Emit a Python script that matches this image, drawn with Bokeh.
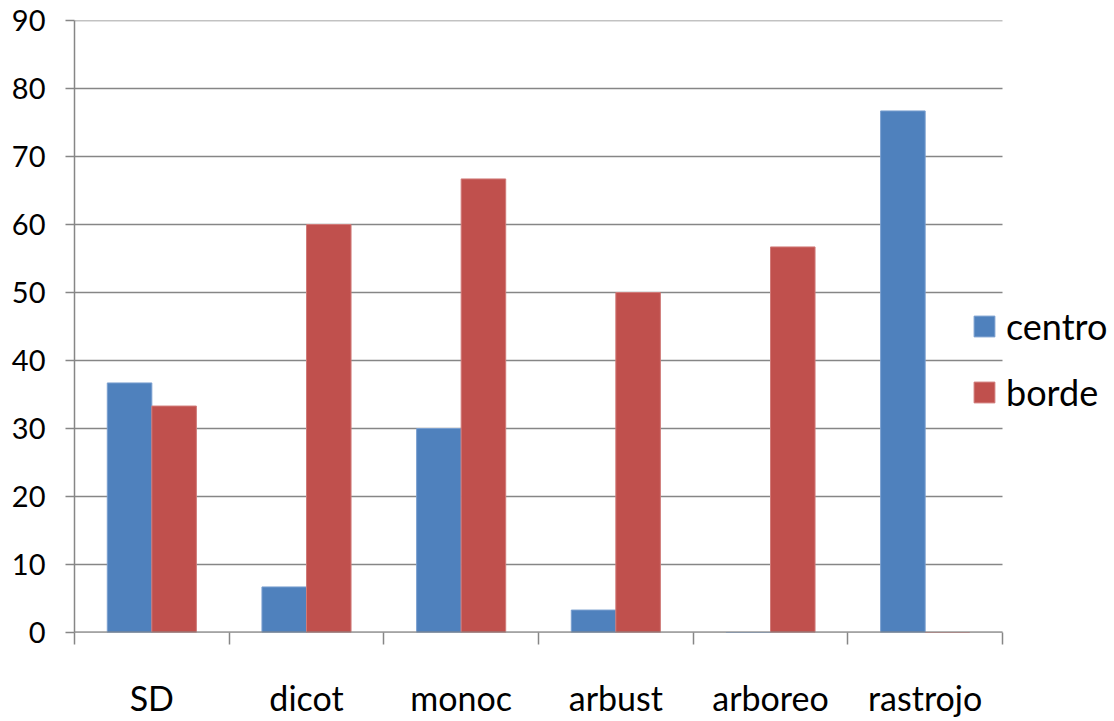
from bokeh.plotting import figure
from bokeh.models import Range1d, FixedTicker, ColumnDataSource, Legend, LegendItem
from bokeh.embed import file_html
from bokeh.resources import INLINE

categories = ["SD", "dicot", "monoc", "arbust", "arboreo", "rastrojo"]
centro = [36.7, 6.7, 30.0, 3.3, 0.0, 76.7]
borde = [33.3, 60.0, 66.7, 50.0, 56.7, 0.0]
y_ticks = [0, 10, 20, 30, 40, 50, 60, 70, 80, 90]

FONT = "Lato"
GRID = "#868686"
BLUE = "#4F81BD"
RED = "#C0504D"

W, H = 1114, 721
LEFT, TOP, BOTTOM, RIGHT = 74, 20, 89, 0
DATA_PX = 928  # pixel width of the category area

n = len(categories)
bar_w = 0.288
idx = list(range(n))
src = ColumnDataSource(dict(
    xc=[i + 0.5 - bar_w / 2 for i in idx],
    xb=[i + 0.5 + bar_w / 2 for i in idx],
    centro=centro,
    borde=borde,
))
grid_src = ColumnDataSource(dict(
    x0=[0] * len(y_ticks), x1=[n] * len(y_ticks), y=y_ticks,
))

x_end = n * (W - LEFT - RIGHT) / DATA_PX

p = figure(width=W, height=H, output_backend="svg", toolbar_location=None,
           x_range=Range1d(0, x_end), y_range=Range1d(0, 90),
           min_border_left=LEFT, min_border_right=RIGHT, min_border_top=TOP, min_border_bottom=BOTTOM)
p.outline_line_color = None
p.background_fill_color = "white"
p.border_fill_color = "white"

# horizontal gridlines, only across the category area
p.segment(x0="x0", x1="x1", y0="y", y1="y", source=grid_src, line_color=GRID, line_width=1.5)

rc = p.vbar(x="xc", top="centro", width=bar_w, source=src, fill_color=BLUE, line_color="#7A9FCF", line_width=1)
rb = p.vbar(x="xb", top="borde", width=bar_w, source=src, fill_color=RED, line_color="#D07A78", line_width=1)

# category axis baseline drawn over the bars
p.segment(x0=[0], x1=[n], y0=[y_ticks[0]], y1=[y_ticks[0]], line_color=GRID, line_width=2.2)

# x axis
xa = p.xaxis[0]
xa.ticker = FixedTicker(ticks=[i + 0.5 for i in idx], minor_ticks=list(range(n + 1)))
xa.major_label_overrides = {i + 0.5: c for i, c in zip(idx, categories)}
xa.major_tick_out = 0
xa.major_tick_in = 0
xa.minor_tick_out = 12
xa.minor_tick_in = 0
xa.minor_tick_line_color = GRID
xa.minor_tick_line_width = 1.5
xa.axis_line_color = None
xa.major_label_text_font = FONT
xa.major_label_text_font_size = "34px"
xa.major_label_text_color = "black"
xa.major_label_standoff = 32

# y axis
ya = p.yaxis[0]
ya.ticker = FixedTicker(ticks=y_ticks, minor_ticks=[])
ya.major_tick_out = 9
ya.major_tick_in = 0
ya.major_tick_line_color = GRID
ya.major_tick_line_width = 1.5
ya.axis_line_color = GRID
ya.axis_line_width = 1.5
ya.major_label_text_font = FONT
ya.major_label_text_font_size = "29px"
ya.major_label_text_color = "black"
ya.major_label_standoff = 20

p.xgrid.grid_line_color = None
p.ygrid.grid_line_color = None

legend = Legend(items=[LegendItem(label="centro", renderers=[rc]),
                       LegendItem(label="borde", renderers=[rb])],
                location=(897, 218), orientation="vertical")
legend.border_line_color = None
legend.background_fill_alpha = 0
legend.padding = 0
legend.margin = 0
legend.glyph_width = 26
legend.glyph_height = 26
legend.label_height = 26
legend.spacing = 22
legend.label_standoff = 9
legend.label_text_font = FONT
legend.label_text_font_size = "36px"
legend.label_text_color = "black"
p.add_layout(legend, "center")

open("out.html", "w").write(file_html(p, INLINE))
